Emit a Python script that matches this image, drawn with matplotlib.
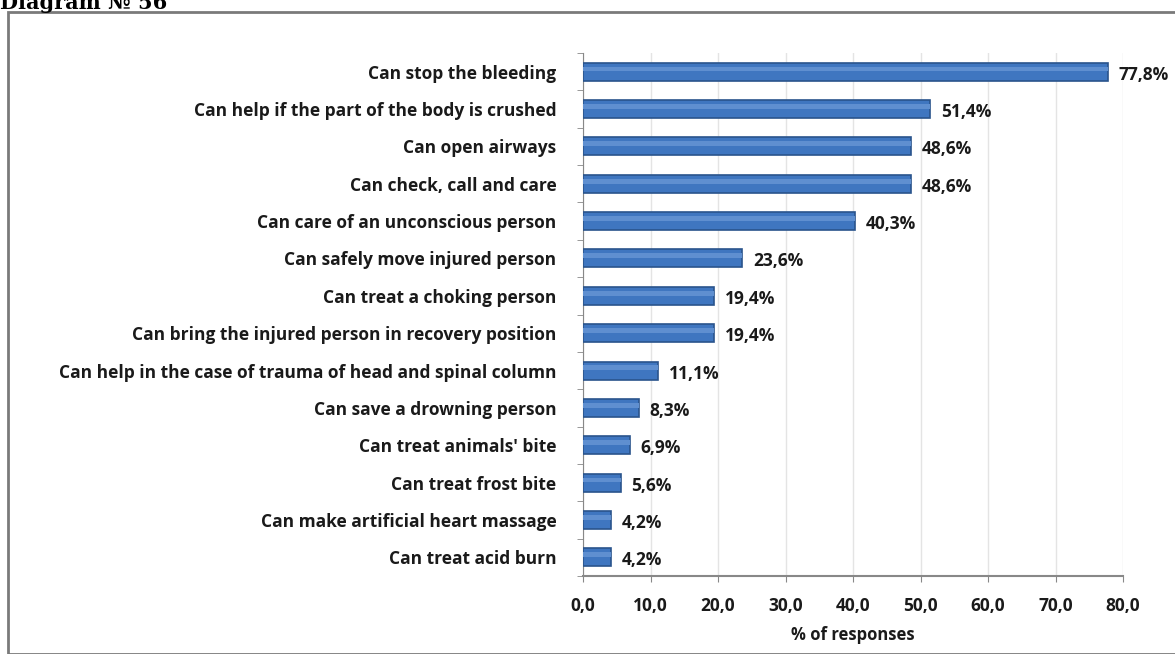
import numpy as np
import matplotlib
matplotlib.use("Agg")
from matplotlib import pyplot as plt
from matplotlib.patches import Rectangle

categories = [
    "Can stop the bleeding",
    "Can help if the part of the body is crushed",
    "Can open airways",
    "Can check, call and care",
    "Can care of an unconscious person",
    "Can safely move injured person",
    "Can treat a choking person",
    "Can bring the injured person in recovery position",
    "Can help in the case of trauma of head and spinal column",
    "Can save a drowning person",
    "Can treat animals' bite",
    "Can treat frost bite",
    "Can make artificial heart massage",
    "Can treat acid burn",
]
values = [77.8, 51.4, 48.6, 48.6, 40.3, 23.6, 19.4, 19.4, 11.1, 8.3, 6.9, 5.6, 4.2, 4.2]
ticks = [0, 10, 20, 30, 40, 50, 60, 70, 80]

plt.rcParams['font.family'] = ['Open Sans', 'DejaVu Sans']
fs = 12.5

fig = plt.figure(figsize=(11.75, 6.54), dpi=100)
ax = fig.add_axes([583 / 1175, 1 - 576 / 654, 540 / 1175, 523 / 654])

y = np.arange(len(categories))
ax.barh(y, values, height=0.48, color='#3f76c0', edgecolor='#2a548c', linewidth=1.2, zorder=3)
# lighter stripe to hint at the cylinder look
ax.barh(y - 0.07, values, height=0.13, color='#5f8fd0', linewidth=0, zorder=4)

for yi, v in zip(y, values):
    ax.text(v + 1.6, yi + 0.08, ("%.1f" % v).replace('.', ',') + '%', va='center', ha='left',
            fontsize=fs, fontweight='bold', color='#1a1a1a', clip_on=False)

ax.set_ylim(len(categories) - 0.5, -0.5)
ax.set_xlim(0, 80)
ax.set_yticks(y)
ax.set_yticklabels(categories, fontsize=fs, fontweight='bold', color='#1a1a1a')
ax.set_yticks(np.arange(len(categories) + 1) - 0.5, minor=True)
ax.tick_params(axis='y', which='major', length=0, pad=19)
ax.tick_params(axis='y', which='minor', length=4, color='#888888')

ax.set_xticks(ticks)
ax.set_xticklabels([("%.1f" % t).replace('.', ',') for t in ticks], fontsize=fs, fontweight='bold', color='#1a1a1a')
ax.tick_params(axis='x', length=4, color='#888888', pad=11)
ax.set_xlabel("% of responses", fontsize=fs - 0.5, fontweight='bold', color='#1a1a1a', labelpad=8)

ax.grid(axis='x', color='#e4e4e4', linewidth=1, zorder=0)
for side in ['top', 'right']:
    ax.spines[side].set_visible(False)
ax.spines['left'].set_color('#888888')
ax.spines['bottom'].set_color('#888888')
ax.spines['bottom'].set_linewidth(1.5)

# outer frame around the chart
fig.patches.append(Rectangle((8 / 1175, 0), 1 - 8 / 1175 + 0.01, 1 - 12 / 654, transform=fig.transFigure,
                             fill=False, edgecolor='#7a7a7a', linewidth=2))
fig.text(0.0, 1 - 9 / 654, "Diagram № 56", family='DejaVu Serif', fontweight='bold', fontsize=15,
         va='baseline', ha='left')

fig.savefig("out.png", dpi=100)
